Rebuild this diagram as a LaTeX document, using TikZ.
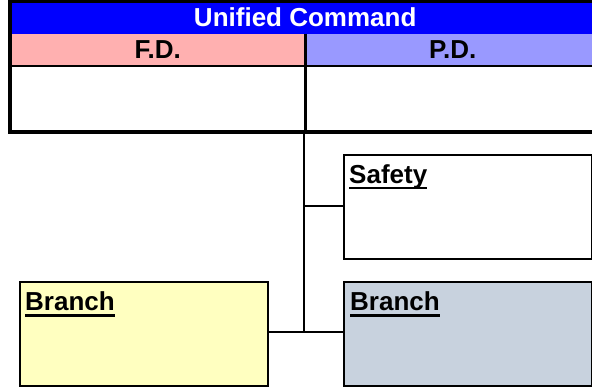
\documentclass[tikz,border=0pt]{standalone}
\usepackage{fontspec}
\setmainfont{Liberation Sans}
\usetikzlibrary{calc}
\definecolor{hdrblue}{RGB}{0,0,255}
\definecolor{fdpink}{RGB}{255,176,176}
\definecolor{pdpurple}{RGB}{153,153,255}
\definecolor{bryellow}{RGB}{255,255,192}
\definecolor{brgray}{RGB}{200,210,222}
\newcommand\ulbox[1]{\setbox0\hbox{#1}\rlap{\rule[-6bp]{\wd0}{2.2bp}}\box0}
\begin{document}
\begin{tikzpicture}[x=1bp,y=-1bp,
  txt/.style={font=\fontsize{26bp}{30bp}\selectfont\bfseries},
  band/.style={txt, inner sep=0pt, anchor=north west, minimum height=32bp},
  cell/.style={inner sep=0pt, anchor=north west, minimum height=66bp, fill=white},
  orgbox/.style={draw=black, line width=2bp, inner sep=0pt, anchor=north west,
    minimum width=248bp, minimum height=104bp},
  lbl/.style={txt, inner sep=0pt, anchor=base west},
  conn/.style={draw=black, line width=2bp}]
\useasboundingbox (0,0) rectangle (592,389);
% header
\node[band, fill=hdrblue, text=white, minimum width=590bp] (uc) at (10,1.5) {Unified Command};
\node[band, fill=fdpink, minimum width=295bp] (fd) at (10,33.5) {F.D.};
\node[band, fill=pdpurple, minimum width=295bp] (pd) at (305,33.5) {P.D.};
\node[cell, minimum width=295bp] (fdb) at (10,65.5) {};
\node[cell, minimum width=295bp] (pdb) at (305,65.5) {};
\draw[line width=1.8bp] (fd.south west) -- (pd.south east);
\draw[line width=2.4bp] (fd.north east) -- (fdb.south east);
\draw[line width=3.4bp] (uc.north west) rectangle (pdb.south east);
% boxes
\node[orgbox, fill=white] (safety) at (343,153.5) {};
\node[orgbox, fill=bryellow] (br1) at (19,281) {};
\node[orgbox, fill=brgray] (br2) at (343,281) {};
\node[lbl] (safetyL) at ($(safety.north west)+(6,29.5)$) {\ulbox{Safety}};
\node[lbl] (br1L) at ($(br1.north west)+(6,29.5)$) {\ulbox{Branch}};
\node[lbl] (br2L) at ($(br2.north west)+(7,29.5)$) {\ulbox{Branch}};
% connectors
\coordinate (top) at (303.5,133);
\coordinate (j) at (303.5,331.5);
\coordinate (js) at (303.5,206);
\draw[conn] (top) -- (j);
\draw[conn] (js) -- (js -| safety.west);
\draw[conn] (br1.east |- j) -- (br2.west |- j);
\end{tikzpicture}
\end{document}
